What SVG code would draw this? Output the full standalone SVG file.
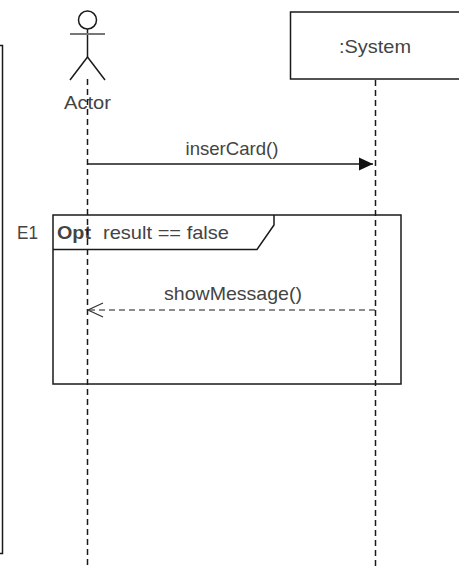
<svg xmlns="http://www.w3.org/2000/svg" width="459" height="568" viewBox="0 0 459 568">
<style>
text{font-family:"Liberation Sans",Arial,sans-serif;font-size:19px;fill:#444;text-anchor:middle}
.s{fill:none;stroke:#1a1a1a;stroke-width:1.5}
.d{fill:none;stroke:#1a1a1a;stroke-width:1.5;stroke-dasharray:6 4}
</style>
<defs>
<marker id="tri" markerWidth="15" markerHeight="14" refX="14" refY="7" orient="auto" markerUnits="userSpaceOnUse"><path d="M0 0.500L14 7L0 13.500Z" fill="#111"/></marker>
<marker id="open" markerWidth="18" markerHeight="16" refX="16" refY="8" orient="auto" markerUnits="userSpaceOnUse"><path d="M1 1L16 8L1 15" fill="none" stroke="#333" stroke-width="1.2"/></marker>
</defs>
<rect width="459" height="568" fill="#fff"/>
<g id="frame-left"><path class="s" d="M0 45.500H2.500V553.500H0"/></g>
<g id="actor">
<circle class="s" cx="87.500" cy="20" r="9"/>
<path class="s" d="M87.500 29V57"/>
<path d="M70 34H105" fill="none" stroke="#777" stroke-width="2"/>
<path class="s" d="M70 80L87.500 57L105 80"/>
<text x="87.500" y="109" textLength="47" lengthAdjust="spacingAndGlyphs">Actor</text>
</g>
<g id="system">
<rect class="s" x="290.500" y="12" width="170" height="67"/>
<text x="375" y="53" textLength="72" lengthAdjust="spacingAndGlyphs">:System</text>
</g>
<g id="opt-frame">
<rect class="s" x="53" y="215" width="348" height="169"/>
<path class="s" d="M53 249.500H257L274 225V215"/>
<text x="74" y="239" textLength="34" lengthAdjust="spacingAndGlyphs" style="font-weight:bold">Opt</text>
<text x="166" y="239" textLength="126" lengthAdjust="spacingAndGlyphs">result == false</text>
<text x="27.500" y="239" textLength="21" lengthAdjust="spacingAndGlyphs">E1</text>
</g>
<g id="connectors">
<path class="d" d="M87.500 79V568"/>
<path class="d" d="M375.500 80V568"/>
<path class="s" d="M87.500 164H373" marker-end="url(#tri)"/>
<path class="d" d="M375 310H88" marker-end="url(#open)" style="stroke-width:1.200"/>
<text x="232" y="155" textLength="93" lengthAdjust="spacingAndGlyphs">inserCard()</text>
<text x="233" y="300" textLength="138" lengthAdjust="spacingAndGlyphs">showMessage()</text>
</g>
</svg>
